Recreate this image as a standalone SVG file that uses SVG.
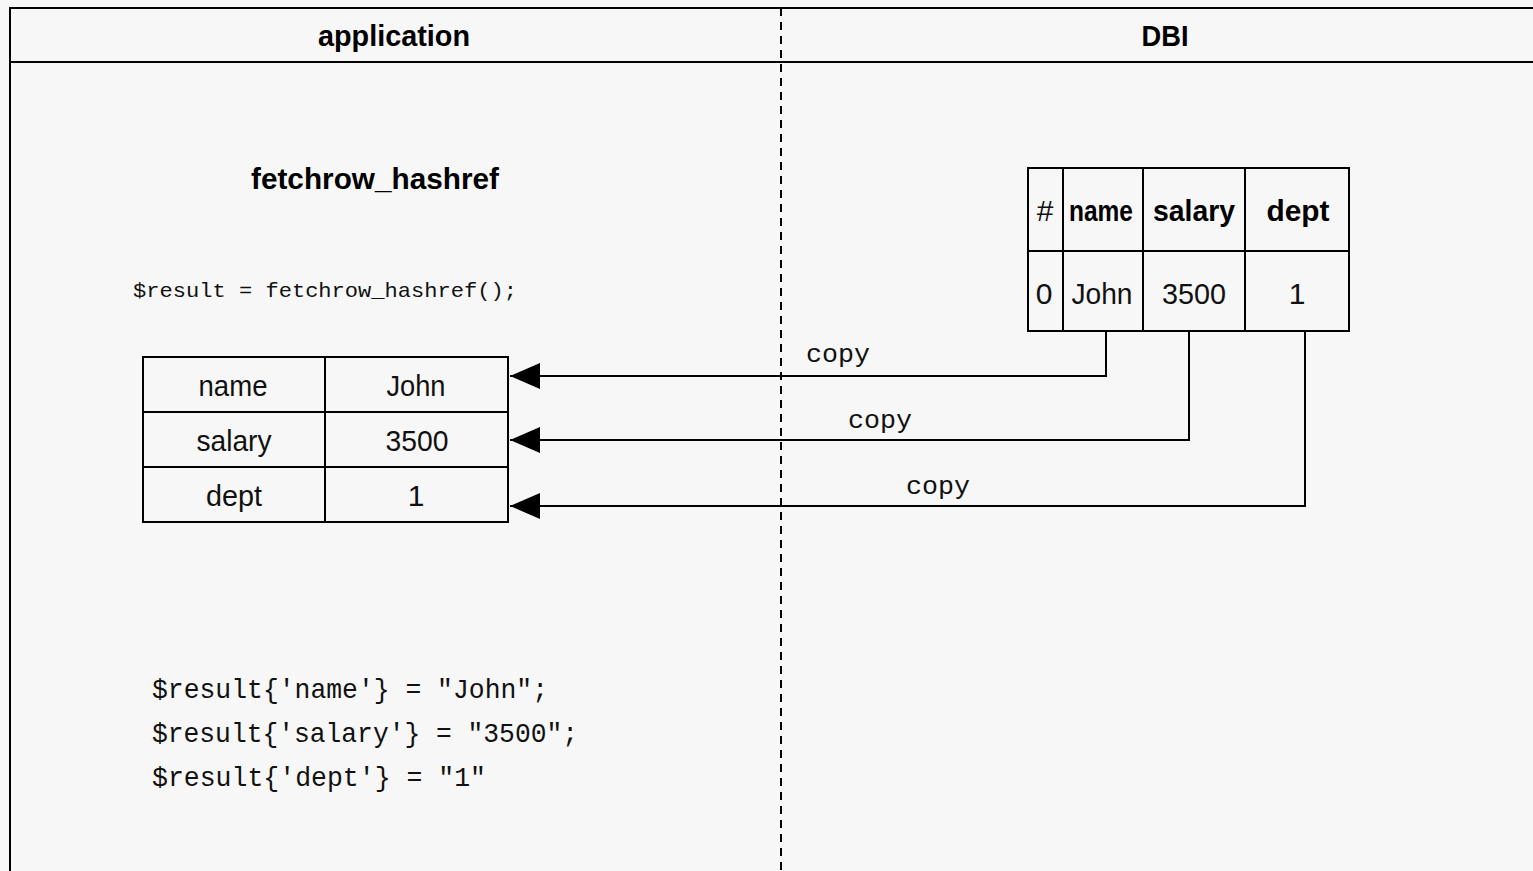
<svg xmlns="http://www.w3.org/2000/svg" width="1533" height="871" viewBox="0 0 1533 871">
  <style>
    .frame { fill: none; stroke: #000; stroke-width: 2; }
    .cell { fill: none; stroke: #000; stroke-width: 2; }
    .lane { fill: none; stroke: #000; stroke-width: 2; stroke-dasharray: 8 6; }
    .wire { fill: none; stroke: #000; stroke-width: 2; }
    .hdr { font-family: "Liberation Sans", Arial, sans-serif; font-weight: bold; font-size: 30px; fill: #000; text-anchor: middle; }
    .cellt { font-family: "Liberation Sans", Arial, sans-serif; font-size: 30px; fill: #111; text-anchor: middle; }
    .cellb { font-family: "Liberation Sans", Arial, sans-serif; font-weight: bold; font-size: 30px; fill: #000; text-anchor: middle; }
    .code { font-family: "Liberation Mono", "Courier New", monospace; fill: #111; }
    .lbl { font-family: "Liberation Mono", "Courier New", monospace; font-size: 26px; fill: #111; }
  </style>
  <defs>
    <!-- filled triangular head; tip sits at the end of the path -->
    <marker id="head" viewBox="0 0 30 30" refX="30" refY="15" markerWidth="30" markerHeight="30" markerUnits="userSpaceOnUse" orient="auto">
      <path d="M0,2 L30,15 L0,28 Z" fill="#000"/>
    </marker>
  </defs>

  <rect width="1533" height="871" fill="#f7f7f7"/>

  <!-- swimlane frame -->
  <g id="lanes">
    <line class="frame" x1="10" y1="8" x2="1533" y2="8"/>
    <line class="frame" x1="10" y1="62" x2="1533" y2="62"/>
    <line class="frame" x1="10" y1="7" x2="10" y2="871"/>
    <line class="lane" x1="781" y1="8" x2="781" y2="871"/>
    <text class="hdr" x="394" y="46" textLength="152" lengthAdjust="spacingAndGlyphs">application</text>
    <text class="hdr" x="1165" y="46" textLength="47" lengthAdjust="spacingAndGlyphs">DBI</text>
  </g>

  <!-- application side -->
  <g id="app-title">
    <text class="hdr" x="375" y="189" textLength="248" lengthAdjust="spacingAndGlyphs">fetchrow_hashref</text>
  </g>
  <g id="app-call">
    <text class="code" x="133" y="297" font-size="21" textLength="384" lengthAdjust="spacingAndGlyphs">$result = fetchrow_hashref();</text>
  </g>

  <g id="hash-table">
    <rect class="cell" x="143" y="357" width="365" height="165"/>
    <line class="cell" x1="325" y1="357" x2="325" y2="522"/>
    <line class="cell" x1="143" y1="412" x2="508" y2="412"/>
    <line class="cell" x1="143" y1="467" x2="508" y2="467"/>
    <text class="cellt" x="233" y="396" textLength="69" lengthAdjust="spacingAndGlyphs">name</text>
    <text class="cellt" x="416" y="396" textLength="59" lengthAdjust="spacingAndGlyphs">John</text>
    <text class="cellt" x="234" y="451" textLength="75" lengthAdjust="spacingAndGlyphs">salary</text>
    <text class="cellt" x="417" y="451" textLength="63" lengthAdjust="spacingAndGlyphs">3500</text>
    <text class="cellt" x="234" y="506" textLength="56" lengthAdjust="spacingAndGlyphs">dept</text>
    <text class="cellt" x="416" y="506">1</text>
  </g>

  <g id="app-result">
    <text class="code" x="152" y="698" font-size="28" textLength="396" lengthAdjust="spacingAndGlyphs">$result{'name'} = "John";</text>
    <text class="code" x="152" y="742" font-size="28" textLength="426" lengthAdjust="spacingAndGlyphs">$result{'salary'} = "3500";</text>
    <text class="code" x="152" y="786" font-size="28" textLength="334" lengthAdjust="spacingAndGlyphs">$result{'dept'} = "1"</text>
  </g>

  <!-- DBI side -->
  <g id="dbi-table">
    <rect class="cell" x="1028" y="168" width="321" height="163"/>
    <line class="cell" x1="1063" y1="168" x2="1063" y2="331"/>
    <line class="cell" x1="1143" y1="168" x2="1143" y2="331"/>
    <line class="cell" x1="1245" y1="168" x2="1245" y2="331"/>
    <line class="cell" x1="1028" y1="251" x2="1349" y2="251"/>
    <text class="cellt" x="1045" y="221">#</text>
    <text class="cellb" x="1101" y="221" textLength="64" lengthAdjust="spacingAndGlyphs">name</text>
    <text class="cellb" x="1194" y="221" textLength="82" lengthAdjust="spacingAndGlyphs">salary</text>
    <text class="cellb" x="1298" y="221" textLength="63" lengthAdjust="spacingAndGlyphs">dept</text>
    <text class="cellt" x="1044" y="304">0</text>
    <text class="cellt" x="1102" y="304" textLength="61" lengthAdjust="spacingAndGlyphs">John</text>
    <text class="cellt" x="1194" y="304" textLength="64" lengthAdjust="spacingAndGlyphs">3500</text>
    <text class="cellt" x="1297" y="304">1</text>
  </g>

  <!-- copy connectors -->
  <g id="connectors">
    <path class="wire" d="M1106,331 V376 H510" marker-end="url(#head)"/>
    <path class="wire" d="M1189,331 V440 H510" marker-end="url(#head)"/>
    <path class="wire" d="M1305,331 V506 H510" marker-end="url(#head)"/>
    <text class="lbl" x="806" y="362" textLength="64" lengthAdjust="spacingAndGlyphs">copy</text>
    <text class="lbl" x="848" y="428" textLength="64" lengthAdjust="spacingAndGlyphs">copy</text>
    <text class="lbl" x="906" y="494" textLength="64" lengthAdjust="spacingAndGlyphs">copy</text>
  </g>
</svg>
